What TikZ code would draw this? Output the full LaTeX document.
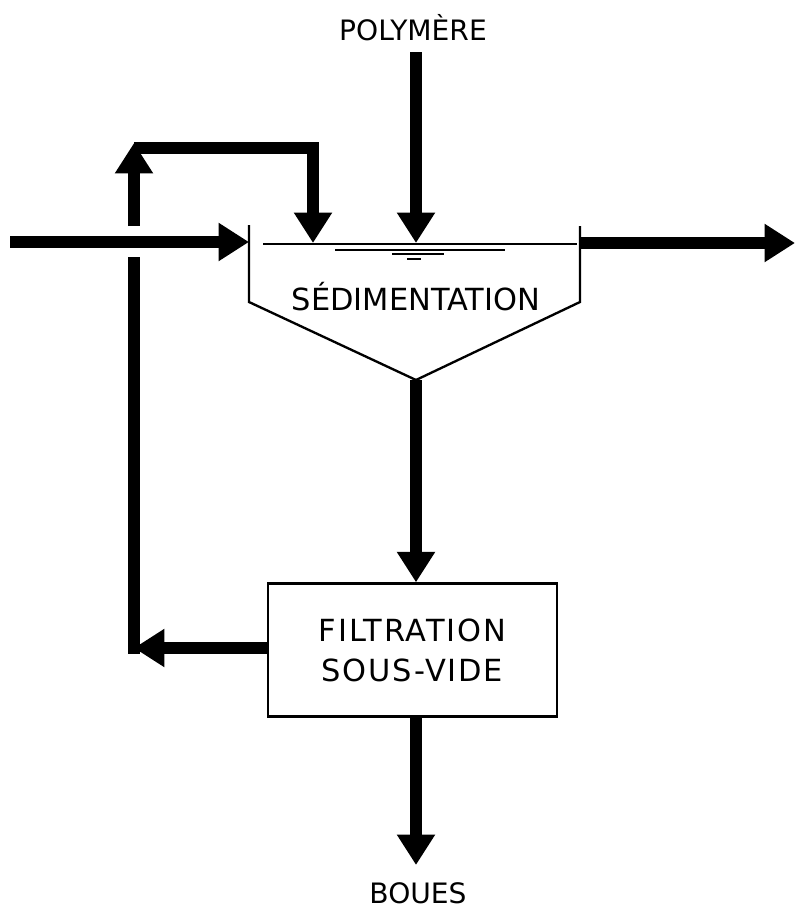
\documentclass[tikz,border=0pt]{standalone}
\usepackage{fontspec}
\setmainfont{DejaVu Sans}
\usetikzlibrary{arrows.meta, positioning}

\begin{document}
\begin{tikzpicture}[x=0.03cm, y=-0.03cm]
        \tikzstyle{label} = [inner sep=0pt, font=\fontsize{24}{28}\selectfont]
        \tikzstyle{process} = [rectangle, minimum width=8.67cm, minimum height=3.99cm, align=center, draw=black, line width=2pt, font=\fontsize{26}{34}\selectfont\addfontfeature{LetterSpace=6}]
        \tikzstyle{pipe} = [line width=9.5pt]
        \tikzstyle{arrow} = [pipe, -{Triangle[width=31pt, length=26pt]}]
        \tikzstyle{wall} = [line width=2pt]

        \useasboundingbox (0,0) rectangle (795,911);

        % decanteur
        \coordinate (tl) at (249,225);
        \coordinate (bl) at (249,302);
        \coordinate (apex) at (416,380);
        \coordinate (br) at (580,302);
        \coordinate (tr) at (580,226);
        \draw [wall, line join=miter] (tl) -- (bl) -- (apex) -- (br) -- (tr);
        \draw [line width=1.6pt] (263,244) -- (577,244);
        \draw [line width=1.6pt] (335,250) -- (505,250);
        \draw [line width=1.6pt] (392,254) -- (444,254);
        \draw [line width=1.6pt] (407,259) -- (421,259);
        \node (sed) [label] at (416,297) {\fontsize{26}{30}\selectfont SÉDIMENTATION};

        \node (filt) [process] at (412.5,650) {FILTRATION\\SOUS-VIDE};

        \node (poly) [label] at (413,28) {POLYMÈRE};
        \node (boues) [label] at (418,893) {BOUES};

        \coordinate (in) at (10,242);
        \coordinate (inlet) at (249,242);
        \coordinate (outlet) at (580,243);
        \coordinate (out) at (795,243);
        \coordinate (ptop) at (416,52);
        \coordinate (pin) at (416,243);
        \coordinate (bot) at (416,865);
        \coordinate (rc1) at (134,648);
        \coordinate (rc2) at (134,263);
        \coordinate (rc3) at (134,226);
        \coordinate (rc4) at (134,143);
        \coordinate (rc5) at (134,148);
        \coordinate (rin) at (313,243);

        \draw [arrow] (in) -- (inlet);
        \draw [arrow] (outlet) -- (out);
        \draw [arrow] (ptop) -- (pin);
        \draw [arrow] (apex) -- (apex |- filt.north);
        \draw [arrow] (apex |- filt.south) -- (bot);
        \draw [arrow] (filt.west |- rc1) -- (rc1);
        \draw [pipe, line cap=rect] (rc1) -- (rc2);
        \draw [arrow] (rc3) -- (rc4);
        \draw [arrow] (rc5) -| (rin);
    \end{tikzpicture}
\end{document}
